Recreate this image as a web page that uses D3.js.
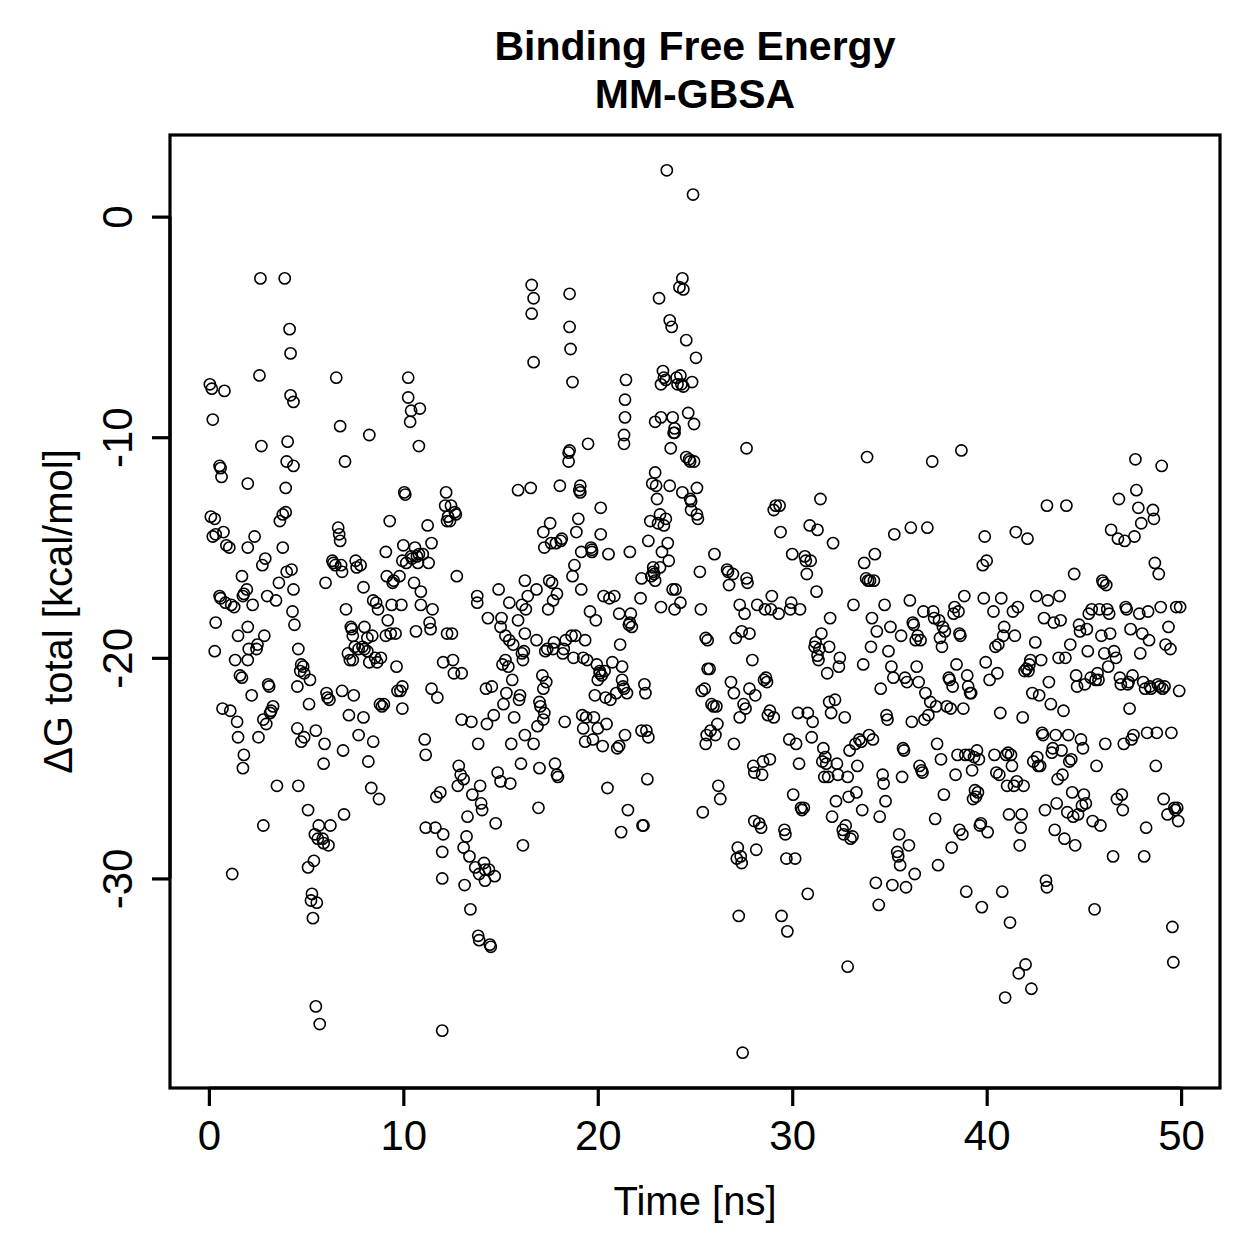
<!DOCTYPE html>
<html>
<head>
<meta charset="utf-8">
<script src="https://cdn.jsdelivr.net/npm/d3@7"></script>
<style>
  body { margin: 0; background: #fff; }
  text { font-family: "Liberation Sans", Arial, Helvetica, sans-serif; }
</style>
</head>
<body>
<div id="chart"></div>
<script>
// values, [time ns, dG total kcal/mol]
var seg00 = [
  [0.05,-7.6],[0.15,-7.8],[0.2,-9.2],[0.1,-13.6],[0.3,-13.7],[0.2,-14.5],[0.35,-14.4],[0.55,-11.3],[0.6,-11.4],[0.65,-11.8],
  [0.55,-17.2],[0.6,-17.3],[0.35,-18.4],[0.3,-19.7],[0.7,-22.3],[0.8,-7.9],[0.75,-14.3],[0.9,-14.9],[1.05,-15.0],[1.1,-22.4],
  [0.85,-17.5],[1.15,-17.6],[1.2,-29.8],[1.3,-17.7],[1.35,-20.1],[1.5,-19.0],[1.45,-22.9],[1.5,-23.6],[1.6,-20.8],[1.7,-20.9],
  [1.7,-16.3],[1.75,-17.2],[1.8,-17.1],[1.8,-24.4],[1.75,-25.0],[2.0,-20.1],[2.05,-19.6],[2.0,-15.0],[2.0,-12.1],[1.95,-16.9],
  [2.0,-18.6],[2.2,-21.7],[2.25,-17.6],[2.35,-14.5],[2.45,-19.6],[2.55,-23.6],[2.5,-19.4],[2.6,-7.2],[2.65,-2.8],[2.7,-10.4],
  [2.75,-15.8],[2.8,-27.6],[2.8,-22.8],[2.85,-19.0],[2.9,-15.5],[2.95,-23.0],[3.0,-17.2],[3.05,-21.2],[3.1,-21.3],[3.15,-22.5],
  [3.2,-22.4],[3.3,-22.2],[3.45,-17.4],[3.5,-25.8],[3.6,-16.6],[3.65,-13.8],[3.8,-15.0],[3.8,-13.5],[3.95,-13.4],[3.9,-2.8],
  [3.95,-12.3],[4.0,-16.1],[4.0,-11.1],[4.05,-10.2],[4.15,-5.1],[4.2,-6.2],[4.2,-8.1],[4.35,-8.4],[4.25,-16.0],[4.35,-11.3],
  [4.3,-17.9],[4.35,-16.9],[4.4,-18.5],[4.55,-21.3],[4.6,-19.6],[4.7,-20.6],[4.75,-20.3],[4.85,-20.4],[4.9,-20.7],[4.55,-23.2],
  [4.6,-25.8],[4.75,-23.8],[4.9,-23.6],[5.15,-22.1],[5.2,-21.0],[5.1,-26.9],[5.1,-29.5],[5.25,-31.0],[5.4,-29.2],[5.35,-31.8],
  [5.3,-30.7],[5.55,-31.1],[5.45,-28.0],[5.6,-28.2],[5.5,-35.8],[5.7,-36.6],[5.5,-23.3],[5.65,-27.6],[5.85,-28.2],[5.9,-24.8],
  [5.95,-23.9],[5.9,-28.4],[6.15,-28.5],[6.25,-27.6],[6.05,-21.6],[6.1,-21.8],[6.0,-16.6],[6.2,-21.9],[6.35,-15.6],[6.4,-15.7],
  [6.5,-15.8],[6.55,-7.3],[6.65,-14.1],[6.7,-14.4],[6.75,-14.7],[6.75,-9.5],[6.8,-15.8],[6.85,-21.5],[6.9,-24.2],[6.85,-16.1],
  [6.95,-27.1],[7.0,-11.1],[7.05,-17.8],[7.15,-19.8],[7.2,-22.6],[7.25,-20.1],[7.3,-18.6],[7.35,-18.7],[7.4,-19.0],[7.4,-20.1],
  [7.5,-19.5],[7.45,-21.7],[7.55,-15.6],[7.6,-15.9],[7.7,-19.6],[7.7,-23.5],[7.8,-15.8],[7.9,-19.5],[7.95,-16.8],[8.0,-18.6],
  [7.95,-22.7],[8.0,-19.6],[8.15,-19.7],[8.15,-19.1],[8.2,-24.7],[8.25,-9.9],[8.25,-20.2],[8.35,-25.9],[8.45,-23.8],[8.4,-19.0],
  [8.45,-17.4],[8.55,-20.0],[8.6,-17.5],[8.65,-20.2],[8.7,-17.8],[8.75,-26.4],[8.8,-22.1],[8.9,-22.2],[8.85,-20.0],[9.0,-22.1],
  [9.1,-15.2],[9.1,-19.0],[9.15,-16.3],[9.2,-18.3],[9.3,-13.8],[9.35,-18.9],[9.4,-17.6],[9.45,-16.6],[9.5,-16.5],[9.6,-18.9],
  [9.65,-20.4],[9.7,-21.5],[9.8,-16.3],[9.85,-21.5],[9.95,-21.3],[9.95,-22.3],[9.9,-17.6],[9.95,-15.6],[10.0,-14.9]
];
var seg10 = [
  [10.05,-12.5],[10.1,-12.6],[10.15,-15.7],[10.25,-7.3],[10.25,-8.2],[10.35,-9.3],[10.4,-8.8],[10.45,-15.5],[10.4,-15.4],[10.55,-16.6],
  [10.6,-15.0],[10.65,-18.8],[10.7,-15.4],[10.75,-15.7],[10.8,-15.3],[10.85,-8.7],[10.8,-10.4],[10.9,-17.0],[10.9,-17.6],[11.0,-15.3],
  [11.1,-23.7],[11.15,-24.4],[11.15,-27.7],[11.25,-14.0],[11.3,-15.7],[11.35,-18.4],[11.4,-18.7],[11.45,-21.4],[11.45,-14.8],[11.5,-17.8],
  [11.65,-27.7],[11.7,-26.3],[11.75,-21.8],[11.9,-26.1],[12.0,-28.8],[12.05,-28.0],[12.0,-30.0],[12.05,-20.2],[12.0,-36.9],[12.15,-13.1],
  [12.2,-12.5],[12.25,-18.9],[12.3,-13.6],[12.25,-13.8],[12.4,-13.8],[12.45,-13.1],[12.5,-18.9],[12.55,-20.1],[12.6,-20.7],[12.65,-13.4],
  [12.7,-13.5],[12.75,-16.3],[12.8,-25.8],[12.85,-24.9],[13.0,-20.7],[13.0,-22.8],[12.95,-25.3],[13.1,-25.5],[13.1,-28.6],[13.15,-30.3],
  [13.25,-28.1],[13.3,-27.2],[13.4,-29.0],[13.45,-31.4],[13.5,-22.9],[13.55,-26.2],[13.7,-29.5],[13.8,-17.2],[13.8,-17.5],[13.85,-23.9],
  [13.85,-32.6],[13.9,-32.8],[13.9,-29.8],[13.95,-25.8],[14.0,-26.6],[14.05,-26.9],[14.15,-29.3],[14.2,-30.1],[14.2,-29.6],[14.25,-21.4],
  [14.3,-23.0],[14.35,-18.2],[14.4,-29.6],[14.45,-33.0],[14.5,-33.1],[14.55,-21.3],[14.65,-22.6],[14.7,-29.9],[14.75,-27.5],[14.85,-25.2],
  [14.9,-16.9],[15.0,-18.6],[15.0,-25.6],[15.05,-18.2],[15.1,-20.3],[15.15,-22.1],[15.25,-19.0],[15.25,-20.1],[15.3,-21.6],[15.4,-20.4],
  [15.45,-19.2],[15.45,-17.5],[15.5,-25.7],[15.55,-23.9],[15.6,-21.0],[15.65,-19.4],[15.7,-22.7],[15.9,-12.4],[15.9,-18.3],[15.95,-21.9],
  [16.0,-21.7],[16.05,-24.8],[16.1,-17.6],[16.1,-19.8],[16.15,-28.5],[16.15,-20.1],[16.2,-19.7],[16.25,-18.9],[16.25,-23.5],[16.25,-16.5],
  [16.3,-17.8],[16.4,-17.2],[16.6,-3.1],[16.7,-3.7],[16.6,-4.4],[16.55,-12.3],[16.7,-6.6],[16.7,-23.9],[16.85,-16.9],[16.85,-19.2],
  [16.9,-23.1],[16.95,-26.8],[17.0,-25.0],[17.0,-22.0],[17.05,-22.2],[17.15,-20.8],[17.2,-21.4],[17.2,-22.8],[17.25,-22.5],[17.25,-15.0],
  [17.2,-14.3],[17.35,-21.1],[17.3,-19.7],[17.4,-19.6],[17.45,-17.8],[17.5,-16.5],[17.55,-13.9],[17.6,-14.8],[17.65,-16.6],[17.7,-17.4],
  [17.7,-19.6],[17.75,-19.3],[17.8,-24.8],[17.85,-14.8],[17.9,-25.3],[17.9,-17.1],[17.95,-25.4],[18.05,-12.2],[18.1,-14.7],[18.15,-14.6],
  [18.2,-19.8],[18.25,-19.6],[18.3,-22.9],[18.35,-19.2],[18.5,-11.1],[18.5,-10.7],[18.55,-10.6],[18.55,-3.5],[18.55,-5.0],[18.6,-6.0],
  [18.7,-7.5],[18.7,-16.3],[18.65,-19.0],[18.75,-20.0],[18.8,-15.8],[18.85,-19.0],[18.9,-14.3],[19.0,-13.7],[19.05,-12.4],[19.1,-12.2],
  [19.1,-12.5],[19.15,-15.2],[19.15,-16.9],[19.2,-22.6],[19.25,-20.0],[19.25,-23.2],[19.35,-19.2],[19.35,-23.8],[19.4,-22.7],[19.45,-20.1],
  [19.5,-10.3],[19.6,-17.9],[19.65,-15.0],[19.7,-15.1],[19.7,-15.2],[19.75,-23.7],[19.8,-22.7],[19.85,-21.7],[19.9,-18.3],[19.95,-20.3]
];
var seg20 = [
  [20.0,-23.2],[20.0,-21.0],[20.1,-20.6],[20.1,-20.7],[20.15,-13.2],[20.15,-14.4],[20.2,-20.8],[20.25,-24.0],[20.3,-17.2],[20.35,-20.6],
  [20.4,-21.8],[20.45,-23.0],[20.5,-25.9],[20.55,-15.3],[20.6,-17.3],[20.65,-21.9],[20.75,-20.2],[20.85,-17.2],[20.95,-21.6],[21.0,-24.1],
  [21.1,-24.0],[21.1,-18.0],[21.15,-19.4],[21.25,-20.4],[21.35,-9.9],[21.35,-10.3],[21.4,-9.1],[21.4,-8.3],[21.45,-7.4],[21.25,-21.0],
  [21.2,-27.9],[21.3,-21.3],[21.35,-21.4],[21.4,-23.5],[21.5,-21.6],[21.55,-26.9],[21.6,-18.5],[21.65,-18.4],[21.7,-18.0],[21.65,-15.2],
  [21.75,-18.6],[22.25,-16.4],[22.2,-17.3],[22.25,-23.3],[22.3,-27.6],[22.35,-27.6],[22.4,-21.2],[22.45,-21.6],[22.5,-23.3],[22.55,-25.5],
  [22.6,-23.6],[22.6,-14.7],[22.7,-13.8],[22.75,-16.3],[22.8,-12.1],[22.85,-15.9],[22.85,-16.1],[22.9,-16.2],[22.95,-11.6],[22.95,-9.3],
  [22.95,-16.5],[23.0,-12.2],[23.05,-12.8],[23.1,-13.9],[23.15,-3.7],[23.2,-13.5],[23.25,-7.6],[23.25,-17.7],[23.25,-9.1],[23.35,-7.0],
  [23.4,-7.3],[23.5,-7.4],[23.55,2.1],[23.7,-4.7],[23.75,-10.5],[23.8,-5.0],[23.85,-16.9],[23.85,-9.1],[23.9,-9.8],[23.95,-9.6],
  [23.95,-17.8],[23.95,-9.8],[24.05,-7.3],[24.1,-7.6],[24.2,-3.2],[24.25,-7.2],[24.3,-7.6],[24.35,-2.8],[24.4,-3.3],[24.35,-12.5],
  [24.4,-7.7],[24.55,-10.9],[24.55,-5.6],[24.65,-8.9],[24.7,-11.0],[24.75,-11.1],[24.8,-12.9],[24.85,-7.5],[24.9,1.0],[24.95,-11.1],
  [24.95,-9.4],[25.05,-6.4],[25.1,-13.5],[25.15,-13.7],[25.1,-12.3],[23.6,-14.8],[23.65,-15.6],[23.5,-13.7],[23.7,-12.2],[23.4,-14.0],
  [23.3,-15.2],[24.25,-17.5],[25.25,-16.1],[25.3,-17.8],[25.35,-21.5],[23.2,-15.9],[24.0,-16.9],[24.75,-12.8],[24.8,-13.3],[25.4,-27.0],
  [25.5,-21.4],[25.55,-19.1],[25.65,-19.2],[25.6,-23.5],[25.55,-23.9],[25.65,-20.5],[25.75,-20.5],[25.8,-23.3],[25.85,-22.1],[25.95,-22.2],
  [26.0,-15.3],[26.05,-23.5],[26.1,-22.2],[26.15,-23.0],[26.2,-25.8],[26.3,-26.4],[26.65,-16.0],[26.7,-16.1],[26.75,-16.7],[26.85,-21.1],
  [27.0,-23.9],[26.95,-16.2],[27.0,-21.6],[27.1,-19.1],[27.15,-29.1],[27.2,-28.6],[27.25,-31.7],[27.3,-22.7],[27.3,-17.6],[27.35,-29.0],
  [27.4,-29.3],[27.4,-18.8],[27.45,-37.9],[27.5,-22.1],[27.55,-18.0],[27.6,-22.3],[27.65,-10.5],[27.65,-16.4],[27.7,-16.6],[27.8,-18.9],
  [27.8,-21.4],[27.95,-20.1],[28.0,-24.9],[28.05,-25.2],[28.1,-21.7],[28.05,-27.4],[28.15,-28.7],[28.2,-17.6],[28.3,-27.5],[28.4,-27.7],
  [28.45,-25.3],[28.5,-24.7],[28.55,-21.0],[28.6,-17.8],[28.65,-20.9],[28.7,-21.1],[28.75,-22.6],[28.85,-22.4],[28.85,-24.6],[28.9,-17.8],
  [28.95,-17.2],[29.05,-22.7],[29.05,-13.3],[29.15,-13.1],[29.3,-18.0],[29.35,-13.1],[29.4,-14.3],[29.45,-31.7],[29.6,-27.8],[29.65,-28.0],
  [29.7,-29.1],[29.75,-32.4],[29.85,-23.7],[29.9,-17.8],[29.95,-17.5]
];
var seg30 = [
  [30.0,-15.3],[30.05,-26.2],[30.15,-29.1],[30.2,-23.9],[30.3,-22.5],[30.35,-24.8],[30.4,-17.8],[30.45,-26.8],[30.5,-26.9],[30.6,-26.8],
  [30.65,-15.4],[30.7,-15.6],[30.75,-16.2],[30.8,-30.7],[30.8,-22.5],[30.9,-14.0],[30.95,-15.6],[31.0,-23.6],[31.05,-22.9],[31.15,-19.5],
  [31.2,-19.3],[31.25,-17.0],[31.3,-14.2],[31.3,-19.9],[31.35,-20.1],[31.4,-19.6],[31.45,-12.8],[31.5,-18.9],[31.55,-24.7],[31.6,-24.1],
  [31.65,-25.4],[31.7,-24.5],[31.75,-24.8],[31.8,-20.7],[31.85,-25.4],[31.9,-22.0],[31.9,-19.5],[31.95,-18.2],[32.0,-22.5],[32.05,-27.2],
  [32.1,-14.8],[32.2,-21.9],[32.25,-26.5],[32.3,-24.8],[32.35,-25.3],[32.4,-20.4],[32.45,-20.0],[32.6,-27.8],[32.65,-28.0],[32.7,-22.7],
  [32.75,-27.6],[32.85,-25.4],[32.85,-34.0],[32.9,-26.3],[32.95,-24.2],[33.0,-28.2],[33.1,-28.1],[33.15,-17.6],[33.25,-23.9],[33.3,-26.1],
  [33.35,-24.9],[33.45,-23.7],[33.55,-23.8],[33.6,-26.9],[33.65,-20.3],[33.7,-15.7],[33.8,-16.4],[33.85,-10.9],[33.9,-16.5],[33.95,-23.5],
  [34.0,-16.5],[34.05,-19.5],[34.1,-18.2],[34.15,-23.7],[34.2,-16.5],[34.25,-15.3],[34.3,-30.2],[34.35,-18.8],[34.45,-31.2],[34.5,-27.2],
  [34.55,-21.4],[34.65,-25.3],[34.7,-25.7],[34.75,-17.6],[34.8,-26.5],[34.85,-22.6],[34.9,-22.8],[34.95,-19.7],[35.05,-18.6],[35.1,-20.4],
  [35.15,-30.3],[35.2,-20.9],[35.25,-14.4],[35.4,-28.8],[35.45,-29.0],[35.5,-28.0],[35.55,-29.4],[35.6,-19.0],[35.65,-25.4],[35.7,-24.1],
  [35.75,-24.2],[35.8,-20.9],[35.85,-30.4],[35.9,-21.1],[36.0,-28.5],[36.05,-17.4],[36.1,-14.1],[36.15,-22.9],[36.2,-18.4],[36.25,-18.5],
  [36.3,-29.8],[36.35,-19.2],[36.4,-20.4],[36.45,-19.0],[36.5,-21.1],[36.55,-24.9],[36.6,-19.2],[36.65,-25.1],[36.7,-25.2],[36.75,-17.9],
  [36.8,-22.8],[36.85,-21.6],[36.95,-14.1],[37.0,-22.6],[37.1,-22.0],[37.2,-11.1],[37.25,-17.9],[37.3,-18.2],[37.35,-27.3],[37.4,-22.2],
  [37.45,-23.9],[37.5,-29.4],[37.55,-18.3],[37.6,-19.1],[37.65,-24.6],[37.7,-19.5],[37.75,-18.6],[37.8,-26.2],[37.85,-18.8],[37.95,-22.2],
  [38.05,-20.9],[38.1,-21.0],[38.15,-22.3],[38.2,-28.6],[38.25,-21.3],[38.3,-18.0],[38.35,-17.7],[38.4,-25.3],[38.45,-20.3],[38.5,-24.4],
  [38.55,-17.9],[38.6,-18.9],[38.6,-27.8],[38.65,-19.0],[38.7,-10.6],[38.75,-28.0],[38.8,-22.3],[38.85,-17.2],[38.9,-24.4],[38.95,-30.6],
  [39.0,-20.8],[39.05,-21.3],[39.1,-24.4],[39.15,-21.6],[39.2,-21.6],[39.25,-25.1],[39.3,-26.4],[39.35,-24.5],[39.4,-26.0],[39.45,-26.3],
  [39.5,-24.2],[39.55,-26.1],[39.6,-24.6],[39.65,-27.6],[39.7,-27.5],[39.75,-31.3],[39.8,-15.8],[39.85,-17.3],[39.9,-14.5],[39.95,-20.2]
];
var seg40 = [
  [40.0,-15.6],[40.05,-27.9],[40.15,-21.0],[40.35,-17.9],[40.4,-24.4],[40.45,-19.5],[40.5,-25.2],[40.55,-20.7],[40.6,-19.4],[40.65,-25.3],
  [40.7,-22.5],[40.75,-17.3],[40.8,-30.6],[40.85,-19.0],[40.9,-18.6],[40.95,-35.4],[41.0,-24.4],[41.05,-25.8],[41.1,-24.3],[41.15,-27.1],
  [41.2,-32.0],[41.25,-24.4],[41.3,-24.9],[41.35,-17.9],[41.4,-25.8],[41.45,-19.0],[41.5,-14.3],[41.55,-25.6],[41.6,-17.7],[41.65,-34.3],
  [41.7,-28.5],[41.75,-27.7],[41.8,-27.1],[41.85,-22.7],[41.9,-25.8],[41.95,-20.6],[42.0,-33.9],[42.05,-20.5],[42.1,-14.6],[42.15,-20.6],
  [42.2,-20.3],[42.25,-20.1],[42.3,-35.0],[42.35,-21.6],[42.4,-24.7],[42.5,-19.3],[42.55,-17.2],[42.6,-24.5],[42.65,-24.9],[42.7,-21.7],
  [42.75,-24.9],[42.8,-20.1],[42.85,-23.4],[42.9,-23.5],[42.95,-18.2],[43.0,-26.9],[43.05,-30.1],[43.1,-30.4],[43.1,-13.1],[43.15,-17.4],
  [43.2,-21.1],[43.3,-22.1],[43.35,-24.3],[43.4,-24.1],[43.45,-18.4],[43.5,-27.8],[43.55,-23.5],[43.6,-26.6],[43.65,-25.5],[43.7,-20.0],
  [43.75,-17.2],[43.8,-18.3],[43.85,-24.2],[43.9,-25.3],[43.95,-22.4],[44.0,-28.2],[44.05,-20.0],[44.1,-13.1],[44.15,-27.0],[44.2,-23.5],
  [44.25,-24.7],[44.3,-19.4],[44.35,-24.6],[44.4,-26.1],[44.45,-27.2],[44.5,-16.2],[44.55,-28.5],[44.6,-20.8],[44.65,-21.3],[44.7,-27.1],
  [44.75,-18.5],[44.8,-18.8],[44.85,-23.7],[44.9,-26.7],[44.95,-24.1],[45.0,-26.2],[45.05,-21.2],[45.1,-26.6],[45.15,-18.7],[45.2,-19.7],
  [45.25,-18.0],[45.35,-20.9],[45.4,-17.8],[45.45,-27.4],[45.55,-31.4],[45.6,-21.0],[45.65,-24.9],[45.7,-20.7],[45.75,-21.0],[45.8,-17.8],
  [45.85,-27.6],[45.9,-19.0],[45.95,-16.5],[46.0,-16.6],[46.05,-19.8],[46.1,-23.9],[46.15,-16.7],[46.2,-17.8],[46.25,-20.4],[46.3,-18.0],
  [46.35,-18.9],[46.4,-14.2],[46.5,-29.0],[46.55,-19.7],[46.65,-20.0],[46.7,-26.4],[46.75,-14.6],[46.8,-12.8],[46.85,-20.9],[46.9,-21.2],
  [46.95,-26.2],[47.0,-26.9],[47.05,-23.9],[47.1,-14.7],[47.15,-17.7],[47.2,-17.8],[47.25,-21.2],[47.3,-21.1],[47.35,-22.3],[47.4,-18.7],
  [47.45,-23.7],[47.5,-20.8],[47.55,-23.5],[47.6,-14.5],[47.65,-11.0],[47.7,-12.4],[47.8,-13.2],[47.85,-18.0],[47.9,-19.8],[47.95,-13.9],
  [48.0,-18.9],[48.05,-21.1],[48.1,-29.0],[48.15,-21.4],[48.2,-27.7],[48.25,-23.4],[48.3,-17.9],[48.35,-19.2],[48.4,-21.3],[48.45,-21.4],
  [48.55,-13.3],[48.6,-13.7],[48.65,-15.7],[48.7,-24.9],[48.75,-23.4],[48.8,-21.2],[48.85,-16.2],[48.9,-21.3],[48.95,-17.7],[49.0,-11.3],
  [49.05,-21.4],[49.1,-26.4],[49.15,-21.3],[49.2,-19.4],[49.3,-27.1],[49.35,-18.6],[49.45,-19.6],[49.5,-23.4],[49.55,-32.2],[49.6,-33.8],
  [49.65,-26.8],[49.7,-26.9],[49.75,-17.7],[49.8,-26.8],[49.85,-27.4],[49.9,-21.5],[49.95,-17.7]
];

var xTicks = [0, 10, 20, 30, 40, 50];
var yTicks = [0, -10, -20, -30];
var titleLines = ["Binding Free Energy", "MM-GBSA"];
var xLabel = "Time [ns]";
var yLabel = "\u0394G total [kcal/mol]";

(function () {
    var points = seg00.concat(seg10, seg20, seg30, seg40);

    var W = 1259, H = 1259;
    var mLeft = 170, mRight = 1220, mTop = 135, mBottom = 1088;

    // R style 4% padding around the data range
    var yMin = d3.min(points, d => d[1]), yMax = d3.max(points, d => d[1]);
    var xPad = (xTicks[xTicks.length - 1] - xTicks[0]) * 0.04;
    var yPad = (yMax - yMin) * 0.04;

    var x = d3.scaleLinear().domain([xTicks[0] - xPad, xTicks[xTicks.length - 1] + xPad]).range([mLeft, mRight]);
    var y = d3.scaleLinear().domain([yMin - yPad, yMax + yPad]).range([mBottom, mTop]);

    var svg = d3.select("#chart").append("svg")
        .attr("width", W).attr("height", H);

    svg.append("rect").attr("width", W).attr("height", H).attr("fill", "#fff");

    // points
    svg.append("g")
        .selectAll("circle")
        .data(points)
        .enter().append("circle")
        .attr("cx", d => x(d[0]))
        .attr("cy", d => y(d[1]))
        .attr("r", 5.6)
        .attr("fill", "none")
        .attr("stroke", "#000")
        .attr("stroke-width", 1.6);

    // plot box
    svg.append("rect")
        .attr("x", mLeft).attr("y", mTop)
        .attr("width", mRight - mLeft).attr("height", mBottom - mTop)
        .attr("fill", "none").attr("stroke", "#000").attr("stroke-width", 3.2);

    // x axis
    var xAxis = svg.append("g").attr("transform", "translate(0," + mBottom + ")")
        .call(d3.axisBottom(x).tickValues(xTicks).tickSize(18).tickPadding(14).tickFormat(d3.format("d")));
    xAxis.select(".domain").attr("d", "M" + x(xTicks[0]) + ",0H" + x(xTicks[xTicks.length - 1]))
        .attr("stroke-width", 3.2);
    xAxis.selectAll(".tick line").attr("stroke-width", 3.2);
    xAxis.selectAll(".tick text")
        .attr("font-size", 42).attr("fill", "#000")
        .attr("font-family", "Liberation Sans, Arial, sans-serif");

    // y axis
    var yAxis = svg.append("g").attr("transform", "translate(" + mLeft + ",0)")
        .call(d3.axisLeft(y).tickValues(yTicks).tickSize(18).tickFormat(d => String(d)));
    yAxis.select(".domain").attr("d", "M0," + y(yTicks[0]) + "V" + y(yTicks[yTicks.length - 1]))
        .attr("stroke-width", 3.2);
    yAxis.selectAll(".tick line").attr("stroke-width", 3.2);
    yAxis.selectAll(".tick text")
        .attr("font-size", 42).attr("fill", "#000")
        .attr("font-family", "Liberation Sans, Arial, sans-serif")
        .attr("text-anchor", "middle")
        .attr("x", null).attr("dy", null)
        .attr("transform", "translate(-38,0) rotate(-90)");

    // title
    svg.append("g").selectAll("text")
        .data(titleLines)
        .enter().append("text")
        .attr("x", (mLeft + mRight) / 2)
        .attr("y", (d, i) => 60 + i * 48)
        .attr("text-anchor", "middle")
        .attr("font-size", 41)
        .attr("font-weight", "bold")
        .text(d => d);

    // axis labels
    svg.append("text")
        .attr("x", (mLeft + mRight) / 2).attr("y", 1215)
        .attr("text-anchor", "middle").attr("font-size", 40)
        .text(xLabel);

    svg.append("text")
        .attr("transform", "translate(72," + (mTop + mBottom) / 2 + ") rotate(-90)")
        .attr("text-anchor", "middle").attr("font-size", 40)
        .text(yLabel);
})();
</script>
</body>
</html>
